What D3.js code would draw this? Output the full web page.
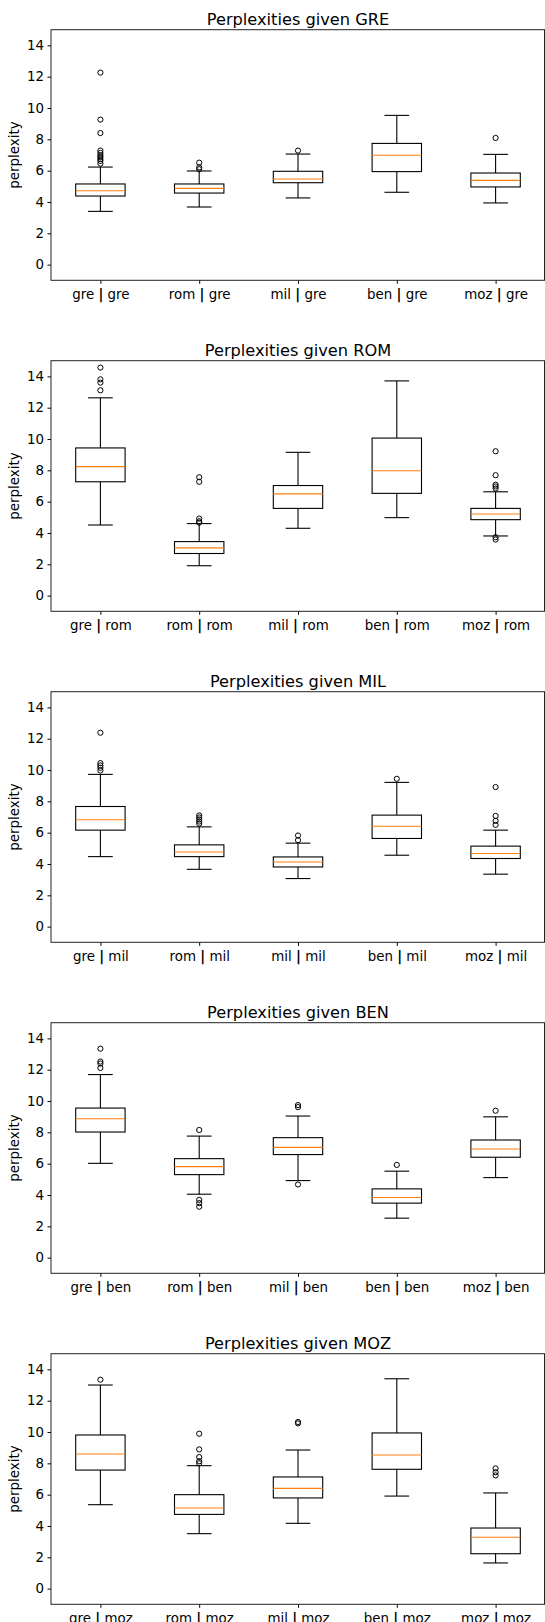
<!DOCTYPE html>
<html>
<head>
<meta charset="utf-8">
<script src="https://cdn.jsdelivr.net/npm/d3@7"></script>
<style>
body { margin: 0; background: #fff; }
text { font-family: "DejaVu Sans", sans-serif; }
</style>
</head>
<body>
<div id="main-container"></div>
<script>
const givens = ["GRE", "ROM", "MIL", "BEN", "MOZ"];
const langs = ["gre", "rom", "mil", "ben", "moz"];
const yTicks = [0, 2, 4, 6, 8, 10, 12, 14];

// una fila por panel (given), un valor por caja (lang)
const whiskerLow = [
    [3.40, 3.68, 4.26, 4.62, 3.94],
    [4.51, 1.91, 4.30, 4.98, 3.81],
    [4.47, 3.66, 3.07, 4.56, 3.35],
    [6.02, 4.05, 4.92, 2.52, 5.11],
    [5.36, 3.51, 4.17, 5.91, 1.64]
];
const q1 = [
    [4.38, 4.57, 5.23, 5.94, 4.96],
    [7.27, 2.69, 5.57, 6.53, 4.85],
    [6.16, 4.47, 3.81, 5.63, 4.35],
    [8.02, 5.30, 6.58, 3.48, 6.41],
    [7.57, 4.74, 5.79, 7.62, 2.23]
];
const medians = [
    [4.72, 4.87, 5.47, 6.98, 5.38],
    [8.24, 3.05, 6.50, 7.97, 5.21],
    [6.82, 4.77, 4.13, 6.41, 4.67],
    [8.87, 5.81, 7.04, 3.84, 6.94],
    [8.60, 5.15, 6.40, 8.53, 3.28]
];
const q3 = [
    [5.15, 5.15, 5.96, 7.74, 5.85],
    [9.43, 3.45, 7.03, 10.06, 5.57],
    [7.67, 5.22, 4.45, 7.12, 5.14],
    [9.55, 6.32, 7.66, 4.39, 7.51],
    [9.81, 6.00, 7.13, 9.94, 3.87]
];
const whiskerHigh = [
    [6.23, 5.98, 7.06, 9.53, 7.04],
    [12.63, 4.60, 9.15, 13.71, 6.63],
    [9.72, 6.37, 5.33, 9.21, 6.16],
    [11.69, 7.76, 9.04, 5.52, 8.99],
    [13.00, 7.85, 8.85, 13.40, 6.11]
];
const outliers = [
    [[12.26, 9.26, 8.40, 7.28, 7.13, 6.98, 6.87, 6.74, 6.62, 6.45], [6.51, 6.21, 6.09], [7.28], [], [8.09]],
    [[14.56, 13.81, 13.60, 13.11], [7.56, 7.27, 4.92, 4.75, 4.66], [], [], [9.22, 7.69, 7.08, 6.97, 6.84, 3.73, 3.58]],
    [[12.38, 10.44, 10.29, 10.14, 9.97], [7.10, 6.97, 6.84, 6.71, 6.58], [5.82, 5.52], [9.44], [8.91, 7.07, 6.75, 6.50]],
    [[13.34, 12.52, 12.39, 12.11], [8.15, 3.69, 3.48, 3.25], [9.74, 9.61, 4.67], [5.92], [9.38]],
    [[13.34], [9.89, 8.89, 8.40, 8.13, 8.00], [10.64, 10.55], [], [7.68, 7.43, 7.23]]
];

const width = 545;
const height = 1622;
const left = 51;
const right = 545;
const firstTop = 29.7;
const panelHeight = 250.6;
const panelStep = 331;
const fontSize = 13.4;

const svg = d3.select("#main-container").append("svg")
    .attr("width", width)
    .attr("height", height)
    .style("display", "block");

svg.append("rect").attr("width", width).attr("height", height).attr("fill", "#fff");

const x = d3.scaleLinear()
    .domain([0.5, 5.5])
    .range([left, right]);
const boxWidth = x(1.25) - x(1);   // medio ancho de caja (0.25)
const capWidth = x(1.125) - x(1);  // medio ancho de los topes

function drawPanel(p) {
    const top = firstTop + p * panelStep;
    const bottom = top + panelHeight;
    const y = d3.scaleLinear()
        .domain([-1, 15])
        .range([bottom, top]);

    const g = svg.append("g").attr("class", "panel");

    // eje y
    const axisY = g.append("g")
        .attr("transform", `translate(${left},0)`)
        .call(d3.axisLeft(y).tickValues(yTicks).tickSize(3.5).tickPadding(3.5));
    axisY.select(".domain").remove();
    axisY.selectAll("text").attr("font-size", fontSize).attr("fill", "#000")
        .attr("font-family", "DejaVu Sans");
    axisY.selectAll("line").attr("stroke", "#000");

    // eje x
    const axisX = g.append("g")
        .attr("transform", `translate(0,${bottom})`)
        .call(d3.axisBottom(x).tickValues([1, 2, 3, 4, 5]).tickSize(3.5).tickPadding(3.5));
    axisX.select(".domain").remove();
    axisX.selectAll("line").attr("stroke", "#000");
    axisX.selectAll("text")
        .attr("font-size", fontSize)
        .attr("fill", "#000")
        .attr("font-family", "DejaVu Sans")
        .attr("dy", null)
        .attr("y", 18.7)
        .text(null)
        .each(function(d) {
            const t = d3.select(this);
            t.append("tspan").text(langs[d - 1] + " ");
            t.append("tspan").attr("font-weight", "bold").text("|");
            t.append("tspan").text(" " + givens[p].toLowerCase());
        });

    // marco
    g.append("rect")
        .attr("x", left)
        .attr("y", top)
        .attr("width", right - left - 0.5)
        .attr("height", panelHeight)
        .attr("fill", "none")
        .attr("stroke", "#222")
        .attr("stroke-width", 1);

    // titulo
    g.append("text")
        .attr("x", (left + right) / 2)
        .attr("y", top - 4.7)
        .attr("text-anchor", "middle")
        .attr("font-size", 16.2)
        .attr("fill", "#000")
        .text("Perplexities given " + givens[p]);

    // etiqueta y
    g.append("text")
        .attr("transform", `translate(19.3,${(top + bottom) / 2}) rotate(-90)`)
        .attr("text-anchor", "middle")
        .attr("font-size", fontSize)
        .attr("fill", "#000")
        .text("perplexity");

    const boxes = g.selectAll(".box")
        .data(langs.map((l, i) => i))
        .join("g")
        .attr("class", "box");

    // bigotes
    boxes.append("line")
        .attr("x1", i => x(i + 1)).attr("x2", i => x(i + 1))
        .attr("y1", i => y(q1[p][i])).attr("y2", i => y(whiskerLow[p][i]))
        .attr("stroke", "#000").attr("stroke-width", 1.1);
    boxes.append("line")
        .attr("x1", i => x(i + 1)).attr("x2", i => x(i + 1))
        .attr("y1", i => y(q3[p][i])).attr("y2", i => y(whiskerHigh[p][i]))
        .attr("stroke", "#000").attr("stroke-width", 1.1);
    boxes.append("line")
        .attr("x1", i => x(i + 1) - capWidth).attr("x2", i => x(i + 1) + capWidth)
        .attr("y1", i => y(whiskerLow[p][i])).attr("y2", i => y(whiskerLow[p][i]))
        .attr("stroke", "#000").attr("stroke-width", 1.1);
    boxes.append("line")
        .attr("x1", i => x(i + 1) - capWidth).attr("x2", i => x(i + 1) + capWidth)
        .attr("y1", i => y(whiskerHigh[p][i])).attr("y2", i => y(whiskerHigh[p][i]))
        .attr("stroke", "#000").attr("stroke-width", 1.1);

    // caja
    boxes.append("rect")
        .attr("x", i => x(i + 1) - boxWidth)
        .attr("width", boxWidth * 2)
        .attr("y", i => y(q3[p][i]))
        .attr("height", i => y(q1[p][i]) - y(q3[p][i]))
        .attr("fill", "none")
        .attr("stroke", "#000")
        .attr("stroke-width", 1.1);

    // mediana
    boxes.append("line")
        .attr("x1", i => x(i + 1) - boxWidth).attr("x2", i => x(i + 1) + boxWidth)
        .attr("y1", i => y(medians[p][i])).attr("y2", i => y(medians[p][i]))
        .attr("stroke", "#ff7f0e").attr("stroke-width", 1.1);

    // atipicos
    boxes.selectAll("circle")
        .data(i => outliers[p][i].map(v => ({ i: i, v: v })))
        .join("circle")
        .attr("cx", d => x(d.i + 1))
        .attr("cy", d => y(d.v))
        .attr("r", 2.6)
        .attr("fill", "none")
        .attr("stroke", "#000")
        .attr("stroke-width", 1);
}

givens.forEach((g, p) => drawPanel(p));
</script>
</body>
</html>
